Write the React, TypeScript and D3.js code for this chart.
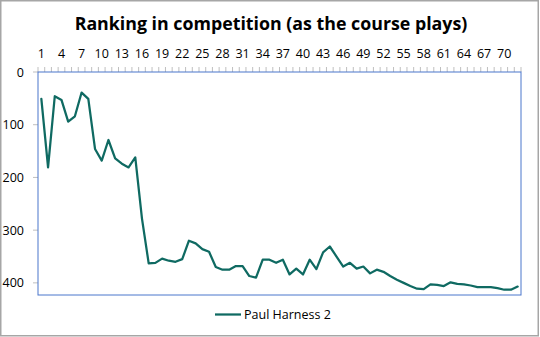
import React from "react";
import * as d3 from "d3";

const title = "Ranking in competition (as the course plays)";
const seriesName = "Paul Harness 2";
const ranks = [51,181,46,53,94,84,39,51,146,168,129,164,174,181,162,278,363,362,354,358,360,355,320,325,336,341,370,375,375,368,368,387,390,356,356,362,356,384,373,384,356,374,342,331,350,369,362,373,369,382,375,379,387,394,400,406,411,412,403,404,406,399,402,403,405,408,408,408,410,413,413,407];
const categories = ranks.map((_, i) => String(i + 1));
const yTicks = [0, 100, 200, 300, 400];
const yMax = 423;

const W = 540, H = 337;
const left = 38, right = 521, top = 72, bottom = 295;
const font = "'Open Sans', 'Noto Sans', sans-serif";
const lineColor = "#0f6a62";

export default function App() {
  const x = d3.scaleBand<string>().domain(categories).range([left, right]).padding(0);
  const y = d3.scaleLinear().domain([0, yMax]).range([top, bottom]);
  const bw = x.bandwidth();
  const line = d3.line<number>()
    .x((_, i) => (x(categories[i]) as number) + bw / 2)
    .y((d) => y(d));
  const boundaries = categories.map((c) => x(c) as number).concat([right]);

  return (
    <div style={{ position: "fixed", left: 0, top: 0 }}>
      <svg width={W} height={H} style={{ display: "block" }}>
        <rect x={0} y={0} width={W} height={H} fill="#fff" />
        <rect x={0.75} y={0.75} width={537.5} height={335} fill="none" stroke="#a6a6a6" strokeWidth={1.5} />
        <text x={271} y={30} textAnchor="middle" fontFamily={font} fontWeight={700} fontSize={17.8} fill="#000">{title}</text>
        {boundaries.map((bx, i) => (
          <line key={"t" + i} x1={bx} x2={bx} y1={top - 5} y2={top} stroke="#bfbfbf" strokeWidth={1} />
        ))}
        {categories.map((c, i) =>
          i % 3 === 0 ? (
            <text key={"l" + i} x={(x(c) as number) + bw / 2} y={58} textAnchor="middle" fontFamily={font} fontSize={12.5} fill="#000">{c}</text>
          ) : null
        )}
        {yTicks.map((t) => (
          <g key={"y" + t}>
            <line x1={33} x2={left} y1={y(t)} y2={y(t)} stroke="#bfbfbf" strokeWidth={1} />
            <text x={24} y={y(t) + 4.5} textAnchor="end" fontFamily={font} fontSize={12.5} fill="#000">{t}</text>
          </g>
        ))}
        <rect x={left} y={top} width={right - left} height={bottom - top} fill="none" stroke="#4a76cc" strokeWidth={1} />
        <path d={line(ranks) as string} fill="none" stroke={lineColor} strokeWidth={2.25} strokeLinejoin="round" strokeLinecap="round" />
        <line x1={215} x2={241} y1={314.5} y2={314.5} stroke={lineColor} strokeWidth={2.25} />
        <text x={244} y={319} fontFamily={font} fontSize={12.5} fill="#000">{seriesName}</text>
      </svg>
    </div>
  );
}
